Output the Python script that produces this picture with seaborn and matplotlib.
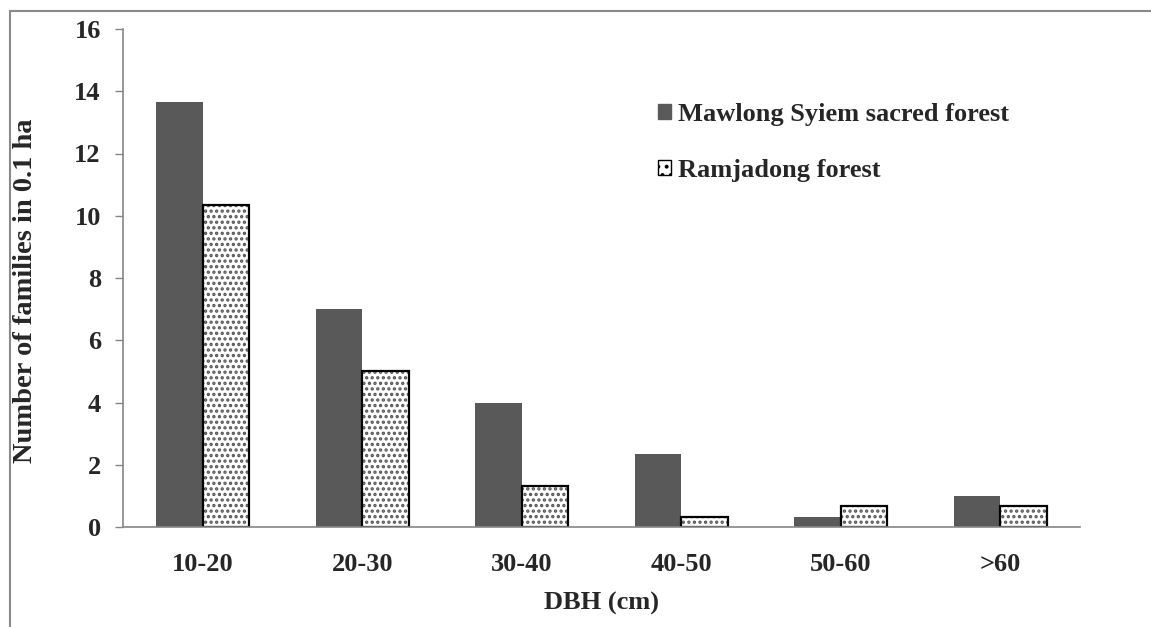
import matplotlib
matplotlib.use("Agg")
import matplotlib.pyplot as plt
import seaborn as sns
import pandas as pd
from matplotlib.patches import Rectangle, Patch
from matplotlib.lines import Line2D

categories = ["10-20", "20-30", "30-40", "40-50", "50-60", ">60"]
mawlong = [13.67, 7.0, 4.0, 2.33, 0.33, 1.0]
ramjadong = [10.33, 5.0, 1.33, 0.33, 0.67, 0.67]
series_names = ["Mawlong Syiem sacred forest", "Ramjadong forest"]
y_ticks = [0, 2, 4, 6, 8, 10, 12, 14, 16]

df = pd.DataFrame({
    "DBH": categories * 2,
    "value": mawlong + ramjadong,
    "site": [series_names[0]] * len(categories) + [series_names[1]] * len(categories),
})

sns.set_theme(style="white")
plt.rcParams["font.family"] = ["Liberation Serif", "DejaVu Serif"]
plt.rcParams["font.weight"] = "bold"
plt.rcParams["hatch.linewidth"] = 1.6

FS = 19

fig = plt.figure(figsize=(11.51, 6.27), dpi=100)
ax = fig.add_axes([123 / 1151, 1 - 527 / 627, (1080 - 123) / 1151, (527 - 29) / 627])

sns.barplot(data=df, x="DBH", y="value", hue="site", order=categories,
            hue_order=series_names, palette=["#595959", "#ffffff"],
            width=0.58, gap=0, legend=False, ax=ax, saturation=1)

dark_c, light_c = ax.containers[0], ax.containers[1]
for p in dark_c.patches:
    p.set_edgecolor("#595959")
    p.set_linewidth(0)
for p in light_c.patches:
    p.set_facecolor("white")
    p.set_hatch("...")
    p.set_edgecolor("#555555")
    p.set_linewidth(0)
    ax.add_patch(Rectangle(p.get_xy(), p.get_width(), p.get_height(),
                           fill=False, edgecolor="black", linewidth=1.6, zorder=p.get_zorder() + 0.1))

ax.set_xlim(-0.5, len(categories) - 0.5)
ax.set_ylim(0, 16)
ax.set_yticks(y_ticks)
ax.set_yticklabels([str(t) for t in y_ticks], fontsize=FS, fontweight="bold")
ax.set_xticks(range(len(categories)))
ax.set_xticklabels(categories, fontsize=FS, fontweight="bold")
ax.set_xticks([i - 0.5 for i in range(len(categories) + 1)], minor=True)
ax.tick_params(axis="x", which="major", length=0, pad=19)
ax.tick_params(axis="x", which="minor", length=7, width=1, color="#868686", direction="out")
ax.tick_params(axis="y", which="major", length=6, width=1, color="#868686", direction="out", pad=10, left=True)

ax.set_xlabel("DBH (cm)", fontsize=FS, fontweight="bold", labelpad=11)
ax.set_ylabel("Number of families in 0.1 ha", fontsize=20.5, fontweight="bold")
ax.yaxis.set_label_coords((38 - 123) / 957, (527 - 291) / 498)

for s in ["top", "right"]:
    ax.spines[s].set_visible(False)
for s in ["left", "bottom"]:
    ax.spines[s].set_color("#868686")
    ax.spines[s].set_linewidth(1.2)

handles = [Patch(facecolor="#595959", edgecolor="#595959"),
           Patch(facecolor="white", edgecolor="black", hatch="..", linewidth=1.0)]
fig.legend(handles, series_names, loc="upper left", bbox_to_anchor=(658 / 1151, 1 - 103 / 627),
           frameon=False, prop={"weight": "bold", "size": FS},
           handlelength=0.5, handleheight=0.5, handletextpad=0.27, labelspacing=1.25,
           borderpad=0, borderaxespad=0)

fig.add_artist(Line2D([10 / 1151, 1], [1 - 11 / 627, 1 - 11 / 627], color="#8a8a8a", lw=1.5))
fig.add_artist(Line2D([10 / 1151, 10 / 1151], [0, 1 - 11 / 627], color="#8a8a8a", lw=1.5))

fig.savefig("out.png", dpi=100)
